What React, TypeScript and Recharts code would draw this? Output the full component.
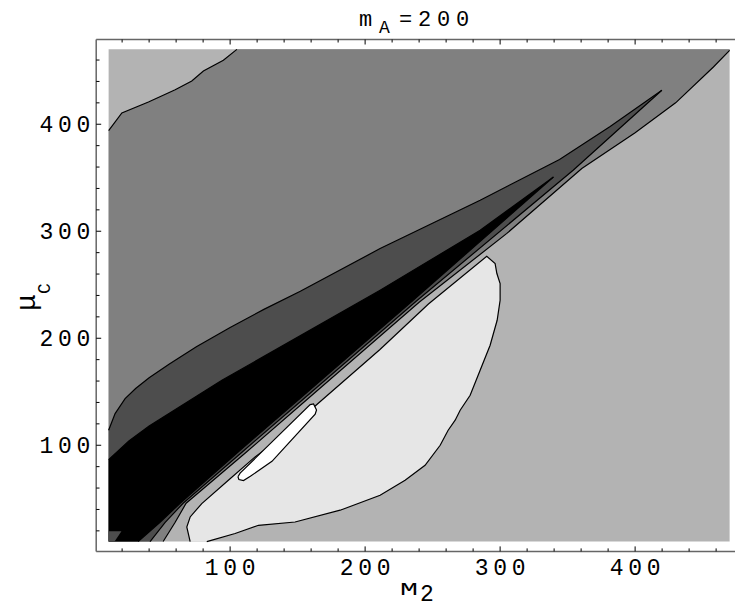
import { ComposedChart, Scatter, XAxis, YAxis } from 'recharts';

type P = { x: number; y: number };

const pts = (arr: number[][]): P[] => arr.map(([x, y]) => ({ x, y }));

// frame ticks (minor every 20, labelled every 100)
const frameTicks = [
  20, 40, 60, 80, 100, 120, 140, 160, 180, 200, 220, 240,
  260, 280, 300, 320, 340, 360, 380, 400, 420, 440, 460,
];
const frameDomain = [0.8, 479.2];

// gray levels of the contour bands
const shades = {
  light: '#b3b3b3',
  mid: '#808080',
  dark: '#4d4d4d',
  black: '#000000',
  pale: '#e6e6e6',
  white: '#ffffff',
};

// contour lines, as [M2, muC]
const plotBox = [[10, 10], [10, 470], [470, 470], [470, 10], [10, 10]];
const topLeftEdge = [
  [10, 394], [19.8, 410.6], [39.5, 420.8], [59.3, 432.2], [71.6, 440.5],
  [80.2, 449.8], [95, 459.8], [105, 470],
];
const diagonalEdge = [
  [50.4, 10], [59.3, 28], [67.4, 45.8], [111.9, 93.5], [156.3, 142.1],
  [240, 233.6], [305, 298], [360.5, 358.6], [400, 392], [430, 420], [458, 453.5], [470, 469],
];
const darkUpper = [
  [10, 114], [14.8, 129.6], [22.2, 143.6], [30, 153], [40, 163], [55, 176],
  [75, 192], [100, 210], [125, 227], [152, 244], [211.1, 283.8], [285.2, 329],
  [344, 367], [381.5, 398], [419.8, 431.8],
];
const darkLower = [
  [40.7, 10], [51.9, 28], [65.2, 45.8], [109.6, 94.4], [154.1, 143],
  [237.8, 234.6], [354.1, 357], [419.8, 431.8],
];
const blackUpper = [
  [10, 86.6], [25, 104], [40, 118], [93.9, 160.7], [211.1, 244.9], [285.2, 300.9], [339.5, 350.7],
];
const blackLower = [
  [31.9, 10], [48.1, 28], [63, 45.8], [107.4, 95.3], [151.9, 143.9],
  [235.6, 235.5], [339.5, 350.7],
];
const cornerPatch = [[10, 10], [10, 19.6], [19.5, 19.6], [14.4, 10], [10, 10]];
const paleBlob = [
  [70.4, 10], [67.9, 23.6], [70.4, 33], [79, 45.5], [98.7, 67.3], [118.5, 89.1],
  [138.3, 107.8], [148.1, 120.3], [211, 189.5], [246.9, 232], [290.1, 276.6],
  [296.3, 269.8], [297.6, 260.5], [300, 251.1], [300, 235.5], [297.8, 216.8],
  [292.6, 193.5], [285.2, 170.1], [277.8, 146.7], [270.4, 132.7], [266.7, 123.4],
  [261.5, 114], [255.6, 100], [244.4, 81.3], [229.6, 67.3], [211.1, 53.3],
  [181.5, 39.3], [148.1, 28.3], [121, 25.2], [103.7, 17.5], [82.7, 10],
];
const whiteBlob = [
  [105.8, 70.6], [107.4, 74], [159.3, 138], [161.8, 138.6], [164, 133],
  [163, 129], [131, 85], [115, 71], [109.9, 67], [106.5, 68], [105.8, 70.6],
];

const rev = (a: number[][]) => [...a].reverse();

const regionMid = [[10, 10], ...diagonalEdge, [470, 470], ...rev(topLeftEdge)];
const regionDark = [[10, 10], ...darkLower, ...rev(darkUpper)];
const regionBlack = [[10, 10], ...blackLower, ...rev(blackUpper)];

const FONT = '"Liberation Mono", "DejaVu Sans Mono", monospace';
const LS = 4.7;

const noDot = () => <g />;

const fillPoly = (id: string, data: number[][], fill: string) => (
  <Scatter
    key={id}
    data={pts(data)}
    dataKey="y"
    shape={noDot}
    line={{ stroke: 'none', fill }}
    lineType="joint"
    lineJointType="linear"
    isAnimationActive={false}
  />
);

const contour = (id: string, data: number[][], fill = 'none') => (
  <Scatter
    key={id}
    data={pts(data)}
    dataKey="y"
    shape={noDot}
    line={{ stroke: '#000', strokeWidth: 1.2, fill }}
    lineType="joint"
    lineJointType="linear"
    isAnimationActive={false}
  />
);

function BottomTick({ x, y, payload }: any) {
  const major = payload.value % 100 === 0;
  return (
    <g>
      <line x1={x} x2={x} y1={y} y2={y - (major ? 5 : 3)} stroke="#000" />
      {major && (
        <text x={x + LS / 2} y={y + 23.6} textAnchor="middle" fill="#000"
          style={{ fontFamily: FONT, fontSize: 23, letterSpacing: LS }}>
          {payload.value}
        </text>
      )}
    </g>
  );
}

function TopTick({ x, y, payload }: any) {
  const major = payload.value % 100 === 0;
  return <line x1={x} x2={x} y1={y} y2={y + (major ? 5 : 3)} stroke="#000" />;
}

function LeftTick({ x, y, payload }: any) {
  const major = payload.value % 100 === 0;
  return (
    <g>
      <line x1={x} x2={x + (major ? 5 : 3.3)} y1={y} y2={y} stroke="#000" />
      {major && (
        <text x={x - 6 + LS} y={y + 7.4} textAnchor="end" fill="#000"
          style={{ fontFamily: FONT, fontSize: 23, letterSpacing: LS }}>
          {payload.value}
        </text>
      )}
    </g>
  );
}

function RightTick({ x, y, payload }: any) {
  const major = payload.value % 100 === 0;
  return <line x1={x} x2={x - (major ? 5 : 3.3)} y1={y} y2={y} stroke="#000" />;
}

const axisLine = { stroke: '#666', strokeWidth: 1.5 };

export default function App() {
  return (
    <div style={{ position: 'fixed', left: 0, top: 0, width: 735, height: 608, overflow: 'hidden', background: '#fff' }}>
      <ComposedChart width={750} height={608} margin={{ top: 0, right: 0, bottom: 0, left: 0 }}>
        <XAxis xAxisId={0} dataKey="x" type="number" domain={frameDomain} allowDataOverflow
          ticks={frameTicks} interval={0} tickSize={0} tickMargin={0} tickLine={false}
          axisLine={axisLine} tick={<BottomTick />} height={56.6} orientation="bottom" />
        <XAxis xAxisId="t" dataKey="x" type="number" domain={frameDomain} allowDataOverflow
          ticks={frameTicks} interval={0} tickSize={0} tickMargin={0} tickLine={false}
          axisLine={axisLine} tick={<TopTick />} height={39.5} orientation="top" />
        <YAxis yAxisId={0} dataKey="y" type="number" domain={frameDomain} allowDataOverflow
          ticks={frameTicks} interval={0} tickSize={0} tickMargin={0} tickLine={false}
          axisLine={axisLine} tick={<LeftTick />} width={96.2} orientation="left" />
        <YAxis yAxisId="r" dataKey="y" type="number" domain={frameDomain} allowDataOverflow
          ticks={frameTicks} interval={0} tickSize={0} tickMargin={0} tickLine={false}
          axisLine={axisLine} tick={<RightTick />} width={7.96} orientation="right" />

        {fillPoly('box', plotBox, shades.light)}
        {fillPoly('mid', regionMid, shades.mid)}
        {fillPoly('dark', regionDark, shades.dark)}
        {fillPoly('black', regionBlack, shades.black)}
        {fillPoly('corner', cornerPatch, shades.dark)}

        {contour('topLeft', topLeftEdge)}
        {contour('diagonal', diagonalEdge)}
        {contour('darkUpper', darkUpper)}
        {contour('darkLower', darkLower)}
        {contour('blackUpper', blackUpper)}
        {contour('blackLower', blackLower)}
        {contour('pale', paleBlob, shades.pale)}
        {contour('white', whiteBlob, shades.white)}
      </ComposedChart>

      <svg width={735} height={608} style={{ position: 'absolute', left: 0, top: 0, pointerEvents: 'none' }}>
        <text y={26} fill="#000" style={{ fontFamily: FONT, fontSize: 22, letterSpacing: 5.8 }}>
          <tspan x={359}>m</tspan>
          <tspan x={379} dy={7} style={{ fontSize: 18 }}>A</tspan>
          <tspan x={399} dy={-7}>=200</tspan>
        </text>
        <text x={400} y={595} fill="#000" textLength={18} lengthAdjust="spacingAndGlyphs"
          style={{ fontFamily: FONT, fontSize: 18 }}>M</text>
        <text x={420} y={601} fill="#000" style={{ fontFamily: FONT, fontSize: 23 }}>2</text>
        <text transform="rotate(-90)" y={35} fill="#000" style={{ fontFamily: FONT, fontSize: 28 }}>
          <tspan x={-311}>μ</tspan>
          <tspan x={-294} dy={15} style={{ fontSize: 18 }}>C</tspan>
        </text>
      </svg>
    </div>
  );
}
